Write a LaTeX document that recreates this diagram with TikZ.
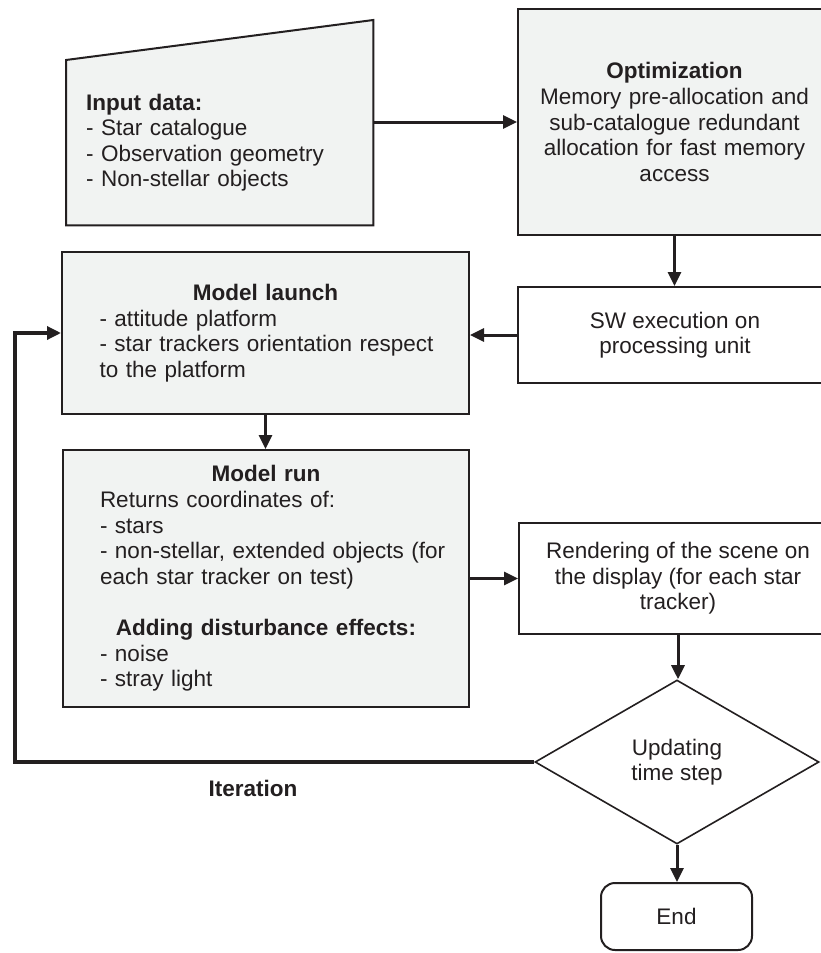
\documentclass[tikz,border=0pt]{standalone}
\usepackage{fontspec}
\setmainfont{Liberation Sans}
\usetikzlibrary{arrows.meta,shapes.geometric,backgrounds}
\definecolor{ink}{RGB}{35,31,32}
\definecolor{boxgray}{RGB}{241,243,242}
\begin{document}
\begin{tikzpicture}[x=1pt,y=-1pt,
  every node/.style={font=\fontsize{22.5pt}{25.6pt}\selectfont, text=ink},
  graybox/.style={draw=ink, line width=2pt, fill=boxgray, rectangle, inner sep=0pt, anchor=north west},
  whitebox/.style={draw=ink, line width=2pt, fill=white, rectangle, inner sep=0pt, anchor=north west},
  conn/.style={draw=ink, line width=3pt, -{Triangle[length=14pt,width=13pt]}},
  ]
\useasboundingbox (0,0) rectangle (821,953);

% Input data (trapezoid drawn behind)
\node[rectangle, inner sep=0pt, anchor=north west, minimum width=307pt, minimum height=165pt,
      text width=267pt, align=left] (input) at (66,60)
  {\textbf{Input data:}\\- Star catalogue\\- Observation geometry\\- Non-stellar objects};
\begin{scope}[on background layer]
  \fill[white] (0,0) rectangle (821,953);
  \filldraw[draw=ink, fill=boxgray, line width=2pt]
    (input.south west) -- (input.north west) -- ([yshift=40pt]input.north east)
    -- (input.south east) -- cycle;
\end{scope}

\node[graybox, minimum width=313pt, minimum height=226pt, text width=300pt, align=center] (opt) at (517,8)
  {\textbf{Optimization}\\Memory pre-allocation and\\sub-catalogue redundant\\allocation for fast memory\\access};

\node[whitebox, minimum width=314pt, minimum height=96pt, align=center] (sw) at (517,286)
  {SW execution on\\processing unit};

\node[graybox, minimum width=407pt, minimum height=162pt, text width=332pt, align=left] (launch) at (61,251)
  {\makebox[\linewidth]{\textbf{Model launch}}\\- attitude platform\\\mbox{- star trackers orientation respect}\\to the platform};

\node[graybox, minimum width=406pt, minimum height=257pt, text width=332pt, align=left] (run) at (62,449)
  {\makebox[\linewidth]{\textbf{Model run}}\\Returns coordinates of:\\- stars\\\makebox[348pt][s]{- non-stellar, extended objects (for}\\each star tracker on test)\\[25.6pt]\makebox[\linewidth]{\textbf{Adding disturbance effects:}}\\- noise\\- stray light};

\node[whitebox, minimum width=318pt, minimum height=111pt, align=center] (render) at (518,522)
  {Rendering of the scene on\\the display (for each star\\tracker)};

\node[diamond, draw=ink, line width=1.6pt, fill=white, minimum width=284pt, minimum height=164pt,
      inner sep=0pt, align=center] (dec) at (677,762) {Updating\\time step};

\node[rectangle, draw=ink, line width=2pt, rounded corners=14pt, minimum width=151pt, minimum height=67pt,
      inner sep=0pt] (end) at (676.5,916.5) {End};

\node[font=\fontsize{22.5pt}{25.6pt}\selectfont\bfseries] (iter) at (253,788) {Iteration};

% connectors
\draw[conn] (opt.west -| input.east) -- (opt.west);
\draw[conn] (opt.south) -- (opt.south |- sw.north);
\draw[conn] (sw.west) -- (sw.west -| launch.east);
\draw[conn] (launch.south) -- (launch.south |- run.north);
\draw[conn] (run.east) -- (run.east -| render.west);
\draw[conn] (render.south) -- (render.south |- dec.north);
\draw[conn] (dec.south) -- (dec.south |- end.north);
\coordinate (loop) at (15,500);
\draw[conn, line width=3.3pt] (dec.west) -- (dec.west -| loop) -- (loop |- launch.west) -- (launch.west);
\end{tikzpicture}
\end{document}
